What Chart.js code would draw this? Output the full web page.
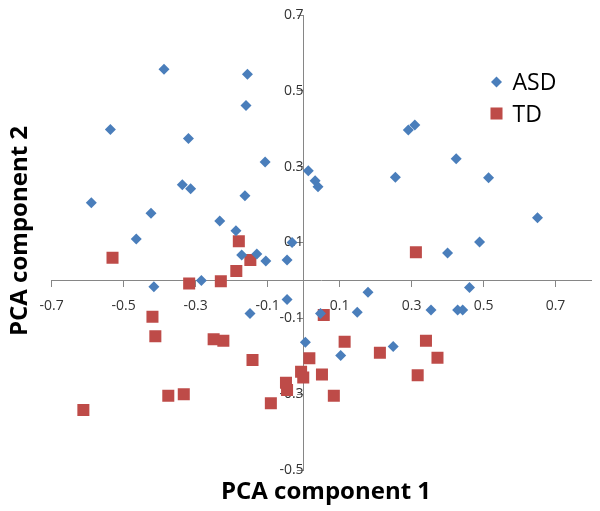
<!DOCTYPE html>
<html>
<head>
<meta charset="utf-8">
<title>PCA</title>
<script src="https://cdn.jsdelivr.net/npm/chart.js@4.4.1/dist/chart.umd.min.js"></script>
<style>
  html, body { margin: 0; padding: 0; background: #fff; }
  #wrap { width: 600px; height: 511px; }
</style>
</head>
<body>
<div id="wrap"><canvas id="graficoPca" width="600" height="511"></canvas></div>
<script>
const seriesNames = ["ASD", "TD"];

const asdX = [-0.388, -0.537, -0.320, -0.337, -0.314, -0.590, -0.424, -0.233, -0.188, -0.465,
  -0.156, -0.160, -0.107, -0.163, -0.032, 0.013, 0.032, 0.040, 0.255, 0.291,
  0.309, 0.424, 0.514, 0.650, 0.489, 0.400, -0.172, -0.130, -0.105, -0.046,
  -0.284, -0.416, -0.046, -0.149, 0.047, 0.179, 0.149, 0.005, 0.249, 0.103,
  0.461, 0.354, 0.428, 0.442];
const asdY = [0.557, 0.398, 0.374, 0.252, 0.242, 0.205, 0.177, 0.157, 0.131, 0.109,
  0.544, 0.461, 0.312, 0.223, 0.100, 0.289, 0.263, 0.247, 0.272, 0.397,
  0.410, 0.321, 0.271, 0.165, 0.101, 0.072, 0.067, 0.070, 0.051, 0.054,
  0.000, -0.017, -0.050, -0.087, -0.087, -0.031, -0.084, -0.163, -0.174, -0.198,
  -0.019, -0.078, -0.078, -0.078];

const tdX = [-0.531, -0.180, -0.148, -0.187, -0.230, -0.318, 0.312, 0.056, -0.420, -0.412,
  -0.250, -0.223, -0.376, -0.333, -0.612, -0.142, 0.016, -0.007, -0.001, 0.051,
  -0.049, -0.046, 0.084, -0.091, 0.114, 0.212, 0.340, 0.372, 0.317];
const tdY = [0.060, 0.103, 0.054, 0.025, -0.002, -0.008, 0.074, -0.091, -0.096, -0.147,
  -0.155, -0.159, -0.304, -0.300, -0.342, -0.210, -0.205, -0.241, -0.256, -0.248,
  -0.270, -0.289, -0.304, -0.324, -0.162, -0.191, -0.159, -0.204, -0.250];

const xTicks = [-0.7, -0.5, -0.3, -0.1, 0.1, 0.3, 0.5, 0.7];
const yTicks = [-0.5, -0.3, -0.1, 0.1, 0.3, 0.5, 0.7];

const xTitle = "PCA component 1";
const yTitle = "PCA component 2";

const corEixo = "#868686";
const fonte = "'Open Sans', 'DejaVu Sans', sans-serif";

function pontos(xs, ys) {
  return xs.map((x, i) => ({ x: x, y: ys[i] }));
}

// axis titles, drawn after the chart
const titulosPlugin = {
  id: "titulos",
  afterDraw(chart) {
    const ctx = chart.ctx;
    ctx.save();
    ctx.fillStyle = "#000";
    ctx.font = "bold 24px " + fonte;
    ctx.textAlign = "center";
    ctx.textBaseline = "alphabetic";
    ctx.fillText(xTitle, 326, 499);
    ctx.translate(27, 231);
    ctx.rotate(-Math.PI / 2);
    ctx.fillText(yTitle, 0, 0);
    ctx.restore();
  },
};

// legend inside the plot, same markers as the data
const legendaPlugin = {
  id: "legenda",
  afterDraw(chart) {
    const ctx = chart.ctx;
    ctx.save();
    ctx.font = "23px " + fonte;
    ctx.textAlign = "left";
    ctx.textBaseline = "alphabetic";
    chart.data.datasets.forEach((ds, i) => {
      const cy = 82 + i * 31.5;
      ctx.fillStyle = ds.backgroundColor;
      ctx.strokeStyle = ds.borderColor;
      ctx.lineWidth = ds.borderWidth;
      if (Chart.helpers && Chart.helpers.drawPoint) {
        Chart.helpers.drawPoint(ctx, {
          pointStyle: ds.pointStyle,
          radius: ds.pointRadius,
          rotation: 0,
          borderWidth: ds.borderWidth,
        }, 496.5, cy);
      } else {
        const r = ds.pointRadius;
        ctx.beginPath();
        if (ds.pointStyle === "rectRot") {
          ctx.moveTo(496.5, cy - r);
          ctx.lineTo(496.5 + r, cy);
          ctx.lineTo(496.5, cy + r);
          ctx.lineTo(496.5 - r, cy);
          ctx.closePath();
        } else {
          const s = r * Math.SQRT1_2;
          ctx.rect(496.5 - s, cy - s, 2 * s, 2 * s);
        }
        ctx.fill();
      }
      ctx.fillStyle = "#000";
      ctx.fillText(ds.label, 512.5, cy + 8);
    });
    ctx.restore();
  },
};

const ctx = document.getElementById("graficoPca").getContext("2d");

new Chart(ctx, {
  type: "scatter",
  data: {
    datasets: [
      {
        label: seriesNames[0],
        data: pontos(asdX, asdY),
        pointStyle: "rectRot",
        pointRadius: 5.5,
        backgroundColor: "#4A7EBB",
        borderColor: "#4A7EBB",
        borderWidth: 0,
      },
      {
        label: seriesNames[1],
        data: pontos(tdX, tdY),
        pointStyle: "rect",
        pointRadius: 8.5,
        backgroundColor: "#BE4B48",
        borderColor: "#BE4B48",
        borderWidth: 0,
      },
    ],
  },
  options: {
    responsive: false,
    animation: false,
    layout: {
      padding: { left: 51.7, right: 8.5, top: 15, bottom: 41 },
    },
    plugins: {
      legend: { display: false },
      tooltip: { enabled: false },
    },
    scales: {
      x: {
        type: "linear",
        min: -0.7,
        max: 0.8,
        position: { y: 0 },
        afterBuildTicks: (s) => {
          s.ticks = xTicks.map((v) => ({ value: v }));
        },
        afterFit: (s) => {
          s.height = 0;
          s.paddingLeft = 0;
          s.paddingRight = 0;
        },
        grid: {
          drawOnChartArea: false,
          drawTicks: true,
          tickLength: 6,
          color: corEixo,
        },
        border: { color: corEixo, width: 1 },
        ticks: {
          padding: 11,
          color: "#333",
          font: { family: fonte, size: 14 },
          maxRotation: 0,
          autoSkip: false,
          callback: (v) => Number(v).toFixed(1),
        },
      },
      y: {
        type: "linear",
        min: -0.5,
        max: 0.7,
        position: { x: 0 },
        afterBuildTicks: (s) => {
          s.ticks = yTicks.map((v) => ({ value: v }));
        },
        afterFit: (s) => {
          s.width = 0;
          s.paddingTop = 0;
          s.paddingBottom = 0;
        },
        grid: {
          drawOnChartArea: false,
          drawTicks: true,
          tickLength: 6,
          color: corEixo,
        },
        border: { color: corEixo, width: 1 },
        ticks: {
          padding: 9,
          color: "#333",
          font: { family: fonte, size: 14 },
          autoSkip: false,
          callback: (v) => Number(v).toFixed(1),
        },
      },
    },
  },
  plugins: [titulosPlugin, legendaPlugin],
});
</script>
</body>
</html>
